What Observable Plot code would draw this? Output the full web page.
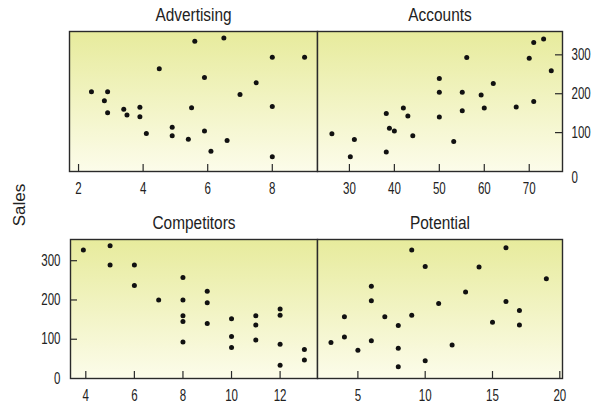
<!DOCTYPE html>
<html><head><meta charset="utf-8">
<script src="https://cdn.jsdelivr.net/npm/d3@7"></script>
<script src="https://cdn.jsdelivr.net/npm/@observablehq/plot@0.6"></script>
<style>
body{margin:0;background:#fff;}
#chart{position:relative;width:608px;height:405px;overflow:hidden;background:#fff;font-family:"Liberation Sans",Arial,sans-serif;color:#222;}
.panel{position:absolute;}
.panel svg{overflow:visible;}
#ylab{position:absolute;left:20px;top:205px;transform:translate(-50%,-50%) rotate(-90deg);font-size:17px;white-space:nowrap;}
</style></head><body>
<div id="chart"><div id="ylab">Sales</div></div>
<script>
// ---- data ----
const yTicks = [100, 200, 300];

const advertisingTitle = "Advertising";
const advertisingTicks = [2, 4, 6, 8];
const advertisingX = [2.4, 2.9, 2.8, 2.9, 3.4, 3.5, 3.9, 3.9, 4.1, 4.5, 4.9, 4.9, 5.4, 5.5, 5.6, 5.9, 5.9, 6.1, 6.5, 6.6, 7.0, 7.5, 8.0, 8.0, 8.0, 9.0];
const advertisingSales = [205, 205, 182, 151, 160, 145, 165, 141, 98, 264, 114, 92, 83, 164, 335, 242, 104, 52, 343, 80, 198, 228, 294, 167, 38, 294];

const accountsTitle = "Accounts";
const accountsTicks = [30, 40, 50, 60, 70];
const accountsX = [26.1, 31.1, 30.2, 38.2, 38.9, 40.0, 38.2, 42.0, 43.0, 44.1, 50, 50, 50, 53.2, 55.1, 55.1, 56.1, 59.3, 60, 62, 67.1, 70, 71, 71, 73.2, 74.9];
const accountsSales = [97, 82, 38, 149, 111, 104, 50, 163, 143, 92, 239, 204, 140, 77, 204, 156, 293, 197, 163, 226, 166, 291, 180, 332, 341, 259];

const competitorsTitle = "Competitors";
const competitorsTicks = [4, 6, 8, 10, 12];
const competitorsX = [3.9, 5, 5, 6, 6, 7, 8, 8, 8, 8, 8, 9, 9, 9, 10, 10, 10, 11, 11, 11, 12, 12, 12, 12, 13, 13];
const competitorsSales = [327, 338, 289, 289, 237, 200, 257, 200, 160, 145, 93, 222, 193, 140, 152, 107, 79, 160, 136, 98, 177, 161, 87, 34, 74, 47];

const potentialTitle = "Potential";
const potentialTicks = [5, 10, 15, 20];
const potentialX = [3, 4, 4, 5, 6, 6, 6, 7, 8, 8, 8, 9, 9, 10, 10, 11, 12, 13, 14, 15, 16, 16, 17, 17, 19];
const potentialSales = [92, 157, 106, 72, 235, 198, 96, 157, 135, 77, 30, 327, 161, 285, 45, 191, 85, 220, 284, 143, 333, 196, 173, 136, 254];

// ---- drawing ----
const FONT = '"Liberation Sans",Arial,sans-serif';
const INK = "#222";
const FRAME = "#2a2a2a";
const TICK_FONT = 16;

function condense(svg) {
  // narrow the glyphs like a condensed face: titles a little, tick labels more
  svg.querySelectorAll("text").forEach(t => {
    const isTitle = !!t.closest("g[data-kind='title']");
    if (!isTitle) t.setAttribute("font-size", TICK_FONT);
    const L = t.getComputedTextLength();
    if (!(L > 0)) return;
    const k = isTitle ? 0.88 : 0.72;
    t.setAttribute("textLength", (L * k).toFixed(2));
    t.setAttribute("lengthAdjust", "spacingAndGlyphs");
  });
}

function makePanel(cfg) {
  const {id, left, top, width, height, mt, mb, ml, mr, xDomain, yDomain, xTicks, xs, ys, title, yAxis} = cfg;
  const plotW = width - ml - mr, plotH = height - mt - mb;
  const gid = "grad-" + id;
  const data = xs.map((v, i) => ({x: v, y: ys[i]}));
  const marks = [
    () => {
      const defs = document.createElementNS("http://www.w3.org/2000/svg", "defs");
      defs.innerHTML = `<linearGradient id="${gid}" x1="0" y1="0" x2="0" y2="1">
        <stop offset="0" stop-color="#e7eb9c"/><stop offset="1" stop-color="#fcfcea"/></linearGradient>`;
      return defs;
    },
    Plot.frame({fill: `url(#${gid})`}),
    Plot.dot(data, {x: "x", y: "y", r: 2.5, fill: "#111", stroke: null}),
    Plot.tickX(xTicks, {x: d => d, insetTop: plotH - 7, stroke: FRAME, strokeWidth: 1.2}),
    Plot.axisX(xTicks, {tickSize: 0, tickPadding: 11, fontSize: TICK_FONT, fill: INK, label: null}),
    Plot.frame({stroke: FRAME, strokeWidth: 1.4}),
    Plot.text([title], {frameAnchor: "top", dy: -16, lineAnchor: "middle", fontSize: 17.5, fill: INK})
  ];
  if (yAxis === "right") {
    marks.push(Plot.tickY(yTicks, {y: d => d, insetLeft: plotW - 7, stroke: FRAME, strokeWidth: 1.2}));
    marks.push(Plot.axisY(yTicks, {anchor: "right", tickSize: 0, tickPadding: 9, fontSize: TICK_FONT, fill: INK, label: null}));
    marks.push(Plot.text([0], {y: d => d, text: d => String(d), frameAnchor: "right", dx: 9, dy: 6, textAnchor: "start", fontSize: TICK_FONT, fill: INK}));
  } else if (yAxis === "left") {
    marks.push(Plot.tickY(yTicks, {y: d => d, insetRight: plotW - 7, stroke: FRAME, strokeWidth: 1.2}));
    marks.push(Plot.axisY([0, ...yTicks], {anchor: "left", tickSize: 0, tickPadding: 10, fontSize: TICK_FONT, fill: INK, label: null}));
  }
  const svg = Plot.plot({
    width, height,
    marginTop: mt, marginBottom: mb, marginLeft: ml, marginRight: mr,
    x: {domain: xDomain, axis: null},
    y: {domain: yDomain, axis: null},
    style: {fontFamily: FONT, fontSize: TICK_FONT + "px", background: "transparent", overflow: "visible", color: INK},
    marks
  });
  // tag the title group so it gets a lighter condensing
  svg.querySelectorAll("g").forEach(g => {
    if (g.textContent === title && g.querySelector("text")) g.setAttribute("data-kind", "title");
  });
  const wrap = document.createElement("div");
  wrap.className = "panel";
  wrap.style.left = left + "px";
  wrap.style.top = top + "px";
  wrap.appendChild(svg);
  document.getElementById("chart").appendChild(wrap);
  condense(svg);
}

makePanel({id: "adv", left: 0, top: 0, width: 318, height: 200, mt: 31, mb: 29, ml: 69, mr: 1,
  xDomain: [1.72, 9.4], yDomain: [0, 360], xTicks: advertisingTicks,
  xs: advertisingX, ys: advertisingSales, title: advertisingTitle, yAxis: null});
makePanel({id: "acc", left: 310, top: 0, width: 298, height: 200, mt: 31, mb: 29, ml: 7, mr: 46,
  xDomain: [22.9, 77.4], yDomain: [0, 360], xTicks: accountsTicks,
  xs: accountsX, ys: accountsSales, title: accountsTitle, yAxis: "right"});
makePanel({id: "comp", left: 0, top: 205, width: 318, height: 200, mt: 34, mb: 27, ml: 70, mr: 1,
  xDomain: [3.37, 13.54], yDomain: [0, 354], xTicks: competitorsTicks,
  xs: competitorsX, ys: competitorsSales, title: competitorsTitle, yAxis: "left"});
makePanel({id: "pot", left: 310, top: 205, width: 298, height: 200, mt: 34, mb: 27, ml: 7, mr: 46,
  xDomain: [2.0, 20.2], yDomain: [0, 354], xTicks: potentialTicks,
  xs: potentialX, ys: potentialSales, title: potentialTitle, yAxis: null});
</script>
</body></html>
